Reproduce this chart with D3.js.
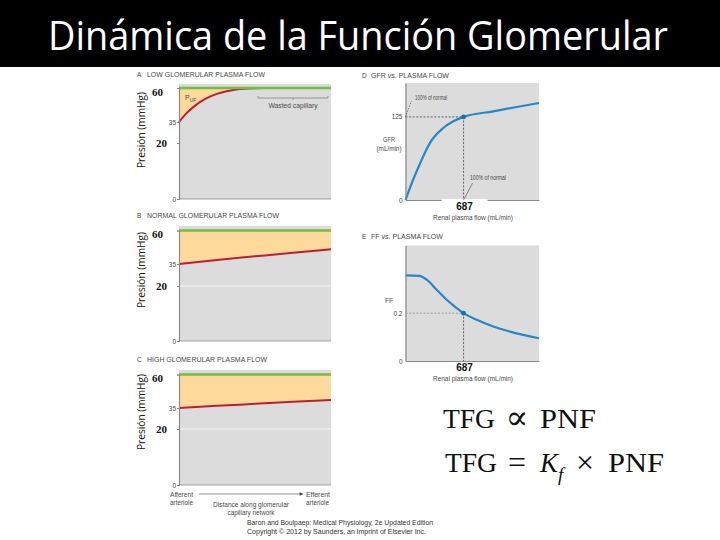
<!DOCTYPE html>
<html><head><meta charset="utf-8">
<script src="https://cdn.jsdelivr.net/npm/d3@7"></script>
<style>body{margin:0;background:#fff}</style>
</head><body>
<svg id="c" width="720" height="540"></svg>
<script>
// ---------------- data ----------------
const titleText = "Dinámica de la Función Glomerular";
const pressureTicks = [0, 20, 35, 60];
const hydrostatic = 60;
const distanceLow = [0, 0.05, 0.1, 0.15, 0.2, 0.25, 0.3, 0.35, 0.4, 0.45, 0.5, 0.6, 0.7, 0.8, 0.9, 1];
const lowFlowPressure = [35, 41.5, 46.5, 50.5, 53.5, 55.7, 57.3, 58.4, 59.2, 59.7, 59.9, 60, 60, 60, 60, 60];
const distanceLin = [0, 0.25, 0.5, 0.75, 1];
const normalFlowPressure = [35, 38, 40.7, 43.4, 46];
const highFlowPressure = [35, 36.6, 38.1, 39.6, 41];
const plasmaFlowGFR = [0, 46, 92, 172, 290, 447, 566, 687, 1039, 1316, 1580];
const gfrValues = [0, 16, 31, 55, 86, 108.3, 118.4, 125, 133.4, 139.9, 145.9];
const plasmaFlowFF = [0, 163, 251, 369, 488, 606, 687, 843, 1039, 1237, 1580];
const ffValues = [0.358, 0.356, 0.340, 0.298, 0.256, 0.221, 0.2, 0.172, 0.144, 0.123, 0.095];
const normalFlow = 687, normalGFR = 125, normalFF = 0.2;
const gfrTicks = [0, 125];
const ffTicks = [0, 0.2];

// ---------------- styles ----------------
const C = {grey:"#dcdcdc", orange:"#fdd99b", green:"#72bd45", red:"#be1e32", blue:"#2387c8", axis:"#8a8a8a", txt:"#4a4a4a"};
const svg = d3.select("#c");
svg.append("rect").attr("width",720).attr("height",540).attr("fill","#fff");
svg.append("rect").attr("width",720).attr("height",67).attr("fill","#000");
svg.append("text").attr("x",358).attr("y",50).attr("text-anchor","middle")
  .attr("font-family","'Open Sans', Lato, sans-serif").attr("font-size",40).attr("fill","#fff")
  .attr("textLength",620).attr("lengthAdjust","spacingAndGlyphs").text(titleText);

function small(g, x, y, s, opt={}) {
  const t = g.append("text").attr("x",x).attr("y",y).attr("font-family","'Liberation Sans', Arial, sans-serif")
    .attr("font-size",opt.size||6.5).attr("fill",opt.fill||C.txt).attr("text-anchor",opt.anchor||"start")
    .attr("dominant-baseline","middle").text(s);
  if (opt.len) t.attr("textLength",opt.len).attr("lengthAdjust","spacingAndGlyphs");
  return t;
}

// ---------------- pressure panels ----------------
const pressurePanels = [
  {letter:"A", title:"LOW GLOMERULAR PLASMA FLOW", ty:75, top:84, range:[199,143,122,88], xs:distanceLow, ys:lowFlowPressure, grid:false, lab:130, tlen:118},
  {letter:"B", title:"NORMAL GLOMERULAR PLASMA FLOW", ty:216, top:226, range:[341,286,264,230.5], xs:distanceLin, ys:normalFlowPressure, grid:true, lab:270, tlen:132},
  {letter:"C", title:"HIGH GLOMERULAR PLASMA FLOW", ty:360, top:370, range:[485,429,408,374.5], xs:distanceLin, ys:highFlowPressure, grid:true, lab:412, tlen:120}
];
const xd = d3.scaleLinear().domain([0,1]).range([179,331]);
pressurePanels.forEach(p => {
  const g = svg.append("g");
  const y = d3.scaleLinear().domain(pressureTicks).range(p.range);
  const pts = p.xs.map((v,i)=>[v,p.ys[i]]);
  g.append("rect").attr("x",xd(0)).attr("y",p.top).attr("width",xd(1)-xd(0)).attr("height",y(0)-p.top).attr("fill",C.grey);
  if (p.grid) g.append("line").attr("x1",xd(0)).attr("x2",xd(1)).attr("y1",y(20)).attr("y2",y(20)).attr("stroke","#f4f4f4").attr("stroke-width",1.2);
  g.append("path").datum(pts).attr("fill",C.orange)
    .attr("d", d3.area().x(d=>xd(d[0])).y0(y(hydrostatic)).y1(d=>y(d[1])));
  g.append("path").datum(pts).attr("fill","none").attr("stroke",C.red).attr("stroke-width",2)
    .attr("d", d3.line().x(d=>xd(d[0])).y(d=>y(d[1])).curve(d3.curveMonotoneX));
  g.append("line").attr("x1",xd(0)).attr("x2",xd(1)).attr("y1",y(hydrostatic)).attr("y2",y(hydrostatic))
    .attr("stroke",C.green).attr("stroke-width",2.4);
  const ax = g.append("g").attr("transform",`translate(${xd(0)},0)`)
    .call(d3.axisLeft(y).tickValues(pressureTicks).tickSize(2).tickPadding(2));
  ax.select(".domain").attr("stroke",C.axis).attr("stroke-width",1.2);
  ax.selectAll(".tick line").attr("stroke",C.axis);
  ax.selectAll(".tick text").each(function(d){
    const t = d3.select(this);
    if (d===60 || d===20) {
      t.attr("font-family","'Liberation Serif', 'DejaVu Serif', serif").attr("font-weight","bold")
       .attr("font-size",11).attr("fill","#111").attr("x", d===60 ? -16 : -12).attr("dy", d===60 ? "0.65em" : "0.32em");
    } else {
      t.attr("font-family","'Liberation Sans', Arial, sans-serif").attr("font-size",6.5).attr("fill",C.txt).attr("x",-3);
    }
  });
  g.append("line").attr("x1",xd(0)).attr("x2",xd(1)).attr("y1",y(0)).attr("y2",y(0)).attr("stroke",C.axis).attr("stroke-width",0.8);
  small(g, 137, p.ty, p.letter, {});
  small(g, 147, p.ty, p.title, {len:p.tlen});
  g.append("text").attr("transform",`translate(145,${p.lab}) rotate(-90)`).attr("text-anchor","middle")
    .attr("font-family","'Open Sans', Lato, sans-serif").attr("font-size",10.5).attr("fill","#222")
    .attr("textLength",76).attr("lengthAdjust","spacingAndGlyphs").text("Presión (mmHg)");
  if (p.letter==="A") {
    const t = g.append("text").attr("x",185).attr("y",100).attr("font-family","'Liberation Sans', Arial, sans-serif")
      .attr("font-size",7).attr("fill",C.txt);
    t.append("tspan").text("P");
    t.append("tspan").attr("font-size",5).attr("dy",1.5).text("UF");
    const bx0 = xd(0.52), bx1 = xd(0.98), bxm = (bx0+bx1)/2, by = 98;
    g.append("path").attr("fill","none").attr("stroke","#666").attr("stroke-width",0.6)
      .attr("d",`M${bx0},${by-2}V${by}H${bx1}V${by-2}M${bxm},${by}v2`);
    small(g, bxm, 106, "Wasted capillary", {anchor:"middle", len:49});
  }
  if (p.letter==="C") {
    small(g, 170, 495, "Afferent", {len:23});
    small(g, 170, 503, "arteriole", {len:23});
    g.append("line").attr("x1",xd(0.13)).attr("x2",xd(0.8)).attr("y1",494).attr("y2",494).attr("stroke","#444").attr("stroke-width",0.6);
    g.append("path").attr("d",`M${xd(0.8)+3},494l-4,-1.8v3.6z`).attr("fill","#444");
    small(g, 306, 495, "Efferent", {len:24});
    small(g, 306, 503, "arteriole", {len:23});
    small(g, 251, 505, "Distance along glomerular", {anchor:"middle", len:76});
    small(g, 251, 513, "capillary network", {anchor:"middle", len:47});
  }
});

small(svg, 247, 523, "Baron and Boulpaep: Medical Physiology, 2e Updated Edition", {len:186, size:7, fill:"#333"});
small(svg, 247, 532, "Copyright \u00a9 2012 by Saunders, an imprint of Elsevier Inc.", {len:179, size:7, fill:"#333"});

// ---------------- flow panels ----------------
const xf = d3.scaleLinear().domain([0,1580]).range([405.5,539]);
function flowPanel(o) {
  const g = svg.append("g");
  const y = d3.scaleLinear().domain(o.domain).range([o.bottom, o.top]);
  g.append("rect").attr("x",xf(0)).attr("y",o.top).attr("width",xf(1580)-xf(0)).attr("height",o.bottom-o.top).attr("fill",C.grey);
  g.append("line").attr("x1",xf(0)).attr("x2",xf(normalFlow)).attr("y1",y(o.normal)).attr("y2",y(o.normal))
    .attr("stroke",o.hcol).attr("stroke-width",0.8).attr("stroke-dasharray","2,1.6");
  g.append("line").attr("x1",xf(normalFlow)).attr("x2",xf(normalFlow)).attr("y1",y(o.normal)).attr("y2",y(0))
    .attr("stroke","#444").attr("stroke-width",0.8).attr("stroke-dasharray","2,1.6");
  const pts = o.xs.map((v,i)=>[v,o.ys[i]]);
  g.append("path").datum(pts).attr("fill","none").attr("stroke",C.blue).attr("stroke-width",2.2)
    .attr("d", d3.line().x(d=>xf(d[0])).y(d=>y(d[1])).curve(d3.curveMonotoneX));
  g.append("circle").attr("cx",xf(normalFlow)).attr("cy",y(o.normal)).attr("r",2.4).attr("fill","#1c6fa6");
  const ay = g.append("g").attr("transform",`translate(${xf(0)},0)`)
    .call(d3.axisLeft(y).tickValues(o.ticks).tickSize(0).tickPadding(3).tickFormat(d=>d===0?"0":String(d)));
  ay.select(".domain").attr("stroke",C.axis).attr("stroke-width",1.2);
  ay.selectAll(".tick text").attr("font-family","'Liberation Sans', Arial, sans-serif").attr("font-size",6.5).attr("fill",C.txt);
  const ab = g.append("g").attr("transform",`translate(0,${o.bottom})`)
    .call(d3.axisBottom(xf).tickValues([]).tickSizeOuter(0));
  ab.select(".domain").attr("stroke",C.axis).attr("stroke-width",1.2);
  small(g, 362, o.ty, o.letter, {});
  small(g, 371, o.ty, o.title, {len:o.tlen});
  if (o.gap) g.append("rect").attr("x",xf(normalFlow)-22).attr("y",o.bottom-1).attr("width",46).attr("height",12).attr("fill","#fff");
  g.append("text").attr("x",xf(normalFlow)+1).attr("y",o.bottom+7).attr("text-anchor","middle").attr("dominant-baseline","middle")
    .attr("font-family","'Liberation Sans', Arial, sans-serif").attr("font-weight","bold").attr("font-size",10).attr("fill","#111").text(String(normalFlow));
  small(g, 473, o.bottom+18, "Renal plasma flow (mL/min)", {anchor:"middle", len:80});
  return {g, y};
}
const D = flowPanel({letter:"D", title:"GFR vs. PLASMA FLOW", tlen:78, ty:76, top:83, bottom:200, domain:[0,176],
  xs:plasmaFlowGFR, ys:gfrValues, normal:normalGFR, ticks:gfrTicks, hcol:"#444", gap:true});
small(D.g, 389, 140, "GFR", {anchor:"middle", len:12});
small(D.g, 389, 149, "(mL/min)", {anchor:"middle", len:25});
small(D.g, 415, 98, "100% of normal", {len:32});
D.g.append("line").attr("x1",xf(0)).attr("y1",D.y(normalGFR)).attr("x2",xf(70)).attr("y2",D.y(normalGFR)-16)
  .attr("stroke","#444").attr("stroke-width",0.6).attr("stroke-dasharray","1.5,1.2");
small(D.g, 470, 178, "100% of normal", {len:36});
D.g.append("line").attr("x1",xf(normalFlow)).attr("y1",D.y(0)).attr("x2",xf(normalFlow)+9).attr("y2",D.y(0)-17)
  .attr("stroke","#444").attr("stroke-width",0.6);

const E = flowPanel({letter:"E", title:"FF vs. PLASMA FLOW", tlen:72, ty:237, top:245.5, bottom:361, domain:[0,0.483],
  xs:plasmaFlowFF, ys:ffValues, normal:normalFF, ticks:ffTicks, hcol:"#8c8c8c", gap:false});
small(E.g, 389, 301, "FF", {anchor:"middle", len:8});

// ---------------- formulas ----------------
const serif = "'Liberation Serif', 'DejaVu Serif', serif";
const f = svg.append("g").attr("font-family",serif).attr("font-size",27).attr("fill","#111");
f.append("text").attr("x",443).attr("y",428).attr("textLength",52).attr("lengthAdjust","spacingAndGlyphs").text("TFG");
f.append("text").attr("x",517).attr("y",429).attr("text-anchor","middle").attr("font-size",34).text("\u221d");
f.append("text").attr("x",540).attr("y",428).attr("textLength",56).attr("lengthAdjust","spacingAndGlyphs").text("PNF");
f.append("text").attr("x",445).attr("y",472).attr("textLength",52).attr("lengthAdjust","spacingAndGlyphs").text("TFG");
f.append("text").attr("x",517).attr("y",473).attr("text-anchor","middle").attr("font-size",32).text("=");
f.append("text").attr("x",540).attr("y",472).attr("font-style","italic").text("K");
f.append("text").attr("x",558).attr("y",481).attr("font-style","italic").attr("font-size",19).text("f");
f.append("text").attr("x",585).attr("y",473).attr("text-anchor","middle").attr("font-size",32).text("\u00d7");
f.append("text").attr("x",608).attr("y",472).attr("textLength",56).attr("lengthAdjust","spacingAndGlyphs").text("PNF");
</script>
</body></html>
